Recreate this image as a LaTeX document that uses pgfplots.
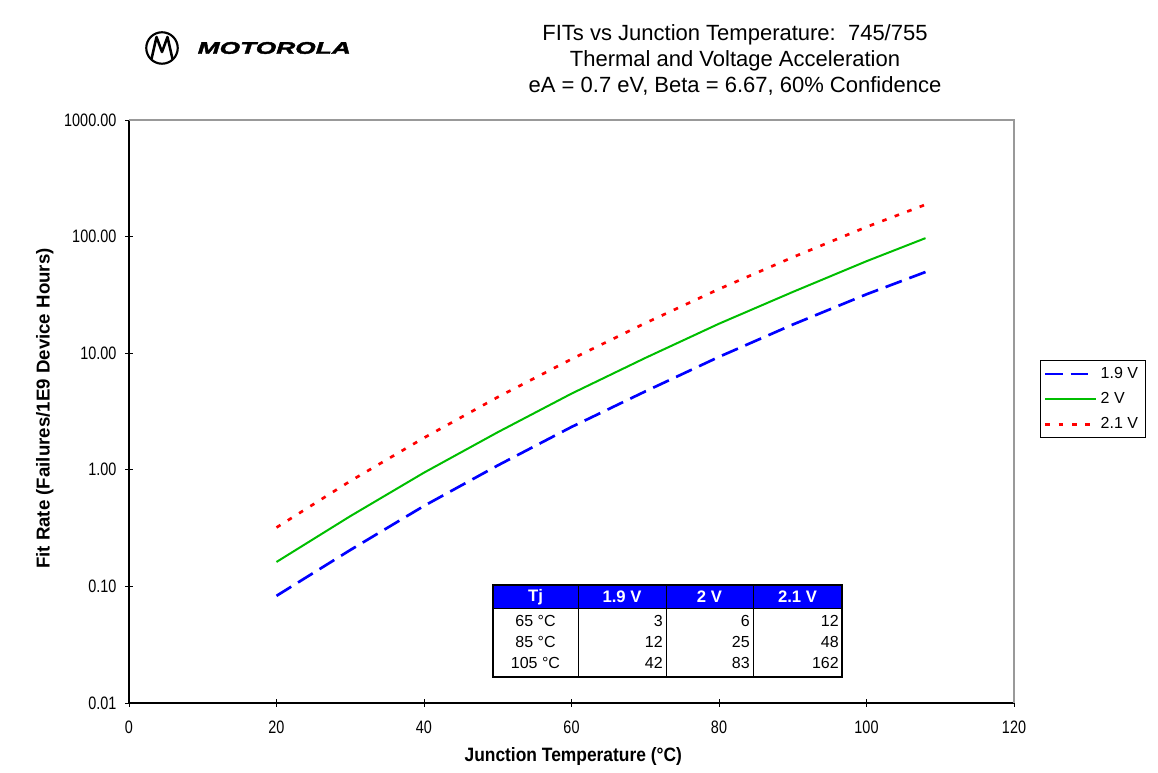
\documentclass[border=0pt]{standalone}
\usepackage{fontspec}
\setmainfont{Liberation Sans}
\newfontfamily\narrowfont[FakeStretch=0.8]{Liberation Sans}
\newfontfamily\labelfont[FakeStretch=0.9]{Liberation Sans}
\newfontfamily\logofont[FakeStretch=1.58,FakeBold=2.5]{Liberation Sans}
\usepackage{pgfplots}
\pgfplotsset{compat=1.18}
\definecolor{exred}{RGB}{255,0,0}
\definecolor{exgreen}{RGB}{0,190,0}
\definecolor{exblue}{RGB}{0,0,255}

\begin{document}
\begin{tikzpicture}
\useasboundingbox (0,0) rectangle (868.5pt,579.75pt);

\begin{axis}[
  at={(96.75pt,52.5pt)}, anchor=south west,
  scale only axis, width=663.75pt, height=437.25pt,
  xmin=0, xmax=120, ymin=0.01, ymax=1000, ymode=log,
  axis x line*=bottom, axis y line*=left,
  axis line style={black, line width=0.8pt},
  xtick={0,20,40,60,80,100,120},
  xticklabels={0,20,40,60,80,100,120},
  ytick={0.01,0.1,1,10,100,1000},
  yticklabels={0.01,0.10,1.00,10.00,100.00,1000.00},
  yminorticks=false,
  tick align=center, major tick length=6pt,
  tick style={black, line width=0.6pt},
  xticklabel style={font=\narrowfont\fontsize{13.5}{15}\selectfont, yshift=-7pt},
  yticklabel style={font=\narrowfont\fontsize{13.5}{15}\selectfont, xshift=-3pt},
  xlabel={Junction Temperature (°C)},
  ylabel={Fit Rate (Failures/1E9 Device Hours)},
  xlabel style={font=\labelfont\bfseries\fontsize{14.5}{16}\selectfont, at={(axis description cs:0.502,-0.0926)}, anchor=center},
  ylabel style={font=\bfseries\fontsize{14}{16}\selectfont, at={(axis description cs:-0.095,0.505)}, anchor=center},
  clip=false,
  legend style={at={(rel axis cs:1.029,0.588)}, anchor=north west, draw=black, line width=0.6pt,
    font=\fontsize{12}{14}\selectfont, row sep=5pt, inner xsep=3pt, inner ysep=3pt,
    nodes={inner xsep=2.5pt}},
  legend cell align=left,
  legend image code/.code={\draw[#1] (0pt,0pt) -- (38pt,0pt);},
]
\addplot[exblue, line width=2pt, dash pattern=on 13pt off 6pt] coordinates {
  (20,0.083) (30,0.205) (40,0.49) (50,1.09) (60,2.33) (70,4.7) (80,9.3) (90,17.6) (100,32) (108,49.7)};
\addlegendentry{1.9 V}
\addplot[exgreen, line width=1.5pt] coordinates {
  (20,0.162) (30,0.40) (40,0.945) (50,2.1) (60,4.5) (70,9.1) (80,17.9) (90,33.5) (100,61.5) (108,97)};
\addlegendentry{2 V}
\addplot[exred, line width=2pt, dash pattern=on 3.5pt off 6.5pt] coordinates {
  (20,0.32) (30,0.80) (40,1.88) (50,4.2) (60,8.9) (70,18.1) (80,35.5) (90,66.5) (100,121) (108,188)};
\addlegendentry{2.1 V}
\draw[gray!80, line width=1.2pt] (rel axis cs:0,1) -- (rel axis cs:1,1) -- (rel axis cs:1,0);
\end{axis}

\begin{scope}[x=0.75pt, y=-0.75pt, shift={(0pt,579.75pt)}]
% logo
\draw[line width=1.6pt] (162,48) circle (11.8pt);
\draw[line width=1.9pt, line join=round] (151.5,59) -- (156.5,37) -- (162,52) -- (167.5,37) -- (172.5,59);
\node[anchor=west, font=\logofont\bfseries\itshape\fontsize{12.5}{14}\selectfont] at (193,48) {MOTOROLA};

% title
\node[align=center, font=\fontsize{16.5}{19.2}\selectfont] at (735,60)
  {FITs vs Junction Temperature:\ \ 745/755\\Thermal and Voltage Acceleration\\eA = 0.7 eV, Beta = 6.67, 60\% Confidence};

% table
\fill[exblue] (493,585) rectangle (842,608);
\draw[line width=0.6pt] (493,608) -- (842,608);
\foreach \xx in {578,666,753} \draw[line width=0.6pt] (\xx,585) -- (\xx,677);
\draw[line width=1.8pt] (493,585) rectangle (842,677);
\tikzset{every node/.style={font=\fontsize{12}{13}\selectfont, inner sep=0pt}}
\node[white, font=\bfseries\fontsize{12.5}{13}\selectfont] at (535.5,597) {Tj};
\node[white, font=\bfseries\fontsize{12.5}{13}\selectfont] at (622,597) {1.9 V};
\node[white, font=\bfseries\fontsize{12.5}{13}\selectfont] at (709.5,597) {2 V};
\node[white, font=\bfseries\fontsize{12.5}{13}\selectfont] at (797.5,597) {2.1 V};
\node at (535.5,621) {65 °C};
\node at (535.5,642) {85 °C};
\node at (535.5,663) {105 °C};
\node[anchor=east] at (663,621) {3};
\node[anchor=east] at (663,642) {12};
\node[anchor=east] at (663,663) {42};
\node[anchor=east] at (750,621) {6};
\node[anchor=east] at (750,642) {25};
\node[anchor=east] at (750,663) {83};
\node[anchor=east] at (839,621) {12};
\node[anchor=east] at (839,642) {48};
\node[anchor=east] at (839,663) {162};
\end{scope}
\end{tikzpicture}
\end{document}
